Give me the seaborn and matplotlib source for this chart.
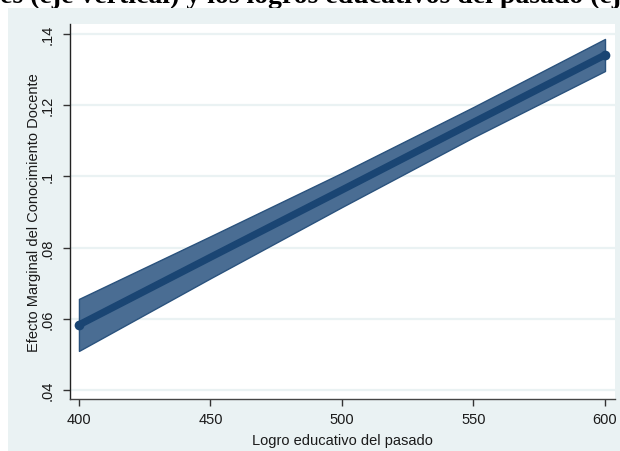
import matplotlib
matplotlib.use("Agg")
import matplotlib.pyplot as plt
from matplotlib.patches import Rectangle
import seaborn as sns
import pandas as pd

# Predicted marginal effect and 95% confidence band
logro = [400, 450, 500, 550, 600]
efecto = [0.0583, 0.0773, 0.0962, 0.1152, 0.1341]
ci_inf = [0.0510, 0.0714, 0.0914, 0.1110, 0.1296]
ci_sup = [0.0656, 0.0832, 0.1010, 0.1195, 0.1386]

x_ticks = [400, 450, 500, 550, 600]
y_ticks = [0.04, 0.06, 0.08, 0.10, 0.12, 0.14]
y_tick_labels = [".04", ".06", ".08", ".1", ".12", ".14"]

titulo = "es (eje vertical) y los logros educativos del pasado (eje"
x_label = "Logro educativo del pasado"
y_label = "Efecto Marginal del Conocimiento Docente"

df = pd.DataFrame({"logro": logro, "efecto": efecto,
                   "ci_inf": ci_inf, "ci_sup": ci_sup})

sns.set_theme(style="white")
plt.rcParams["font.family"] = ["Liberation Sans", "DejaVu Sans"]

BG = "#EAF2F3"
BAND = "#4A6D93"
BAND_EDGE = "#2A527D"
LINE = "#1A4573"

W, H = 620, 452
fig = plt.figure(figsize=(W / 100, H / 100), dpi=100, facecolor="white")

# light graph region behind the plot
bg = Rectangle((8 / W, 0), 1 - 8 / W, 1 - 9 / H,
               transform=fig.transFigure, facecolor=BG,
               edgecolor="none", zorder=-4)
fig.add_artist(bg)

# heading strip (runs off the top of the page)
fig.text(0.0, 1 - 3 / H, titulo, ha="left", va="baseline",
         fontsize=20, fontweight="bold",
         family=["Liberation Serif", "DejaVu Serif"], color="black",
         zorder=-5)

ax = fig.add_axes([70 / W, 1 - 400 / H, 545 / W, 375 / H])
ax.set_zorder(2)
ax.set_facecolor("white")

ax.fill_between(df["logro"], df["ci_inf"], df["ci_sup"], color=BAND,
                edgecolor=BAND_EDGE, linewidth=1.0, zorder=2)
sns.lineplot(data=df, x="logro", y="efecto", ax=ax, color=LINE,
             linewidth=5.2, marker="o", markersize=7.0,
             markeredgewidth=0, markevery=[0, len(logro) - 1], zorder=3)

ax.set_xlim(396.6, 603.8)
ax.set_ylim(0.0375, 0.1428)
ax.set_xticks(x_ticks)
ax.set_xticklabels([str(v) for v in x_ticks])
ax.set_yticks(y_ticks)
ax.set_yticklabels(y_tick_labels, rotation=90, va="center")

ax.grid(axis="y", color=BG, linewidth=1.6, zorder=1)
ax.grid(axis="x", visible=False)
ax.set_axisbelow(True)

for side in ("top", "right"):
    ax.spines[side].set_visible(False)
ax.spines["left"].set_color("#222222")
ax.spines["bottom"].set_color("#444444")
ax.spines["left"].set_linewidth(1.0)
ax.spines["bottom"].set_linewidth(1.0)

ax.tick_params(axis="both", direction="out", length=5, width=1,
               color="#333333", labelsize=10.5, labelcolor="#1a1a1a",
               left=True, bottom=True)
ax.tick_params(axis="y", pad=6)
ax.tick_params(axis="x", pad=4)

ax.set_xlabel(x_label, fontsize=10.5, color="#1a1a1a", va="center")
ax.set_ylabel(y_label, fontsize=10.5, color="#1a1a1a", va="center")
ax.xaxis.set_label_coords(0.5, -(441 - 400) / 375)
ax.yaxis.set_label_coords(-(70 - 34) / 545, 0.5)

fig.savefig("out.png", dpi=100, facecolor="white")
